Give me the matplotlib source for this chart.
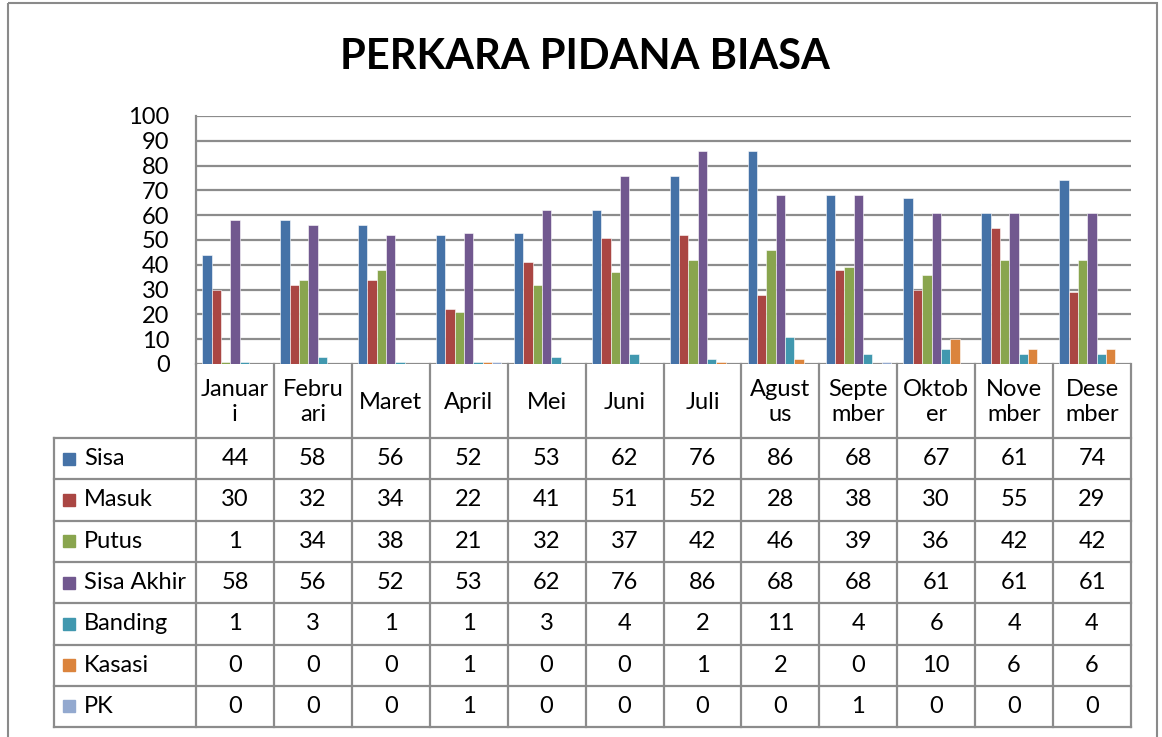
import matplotlib
matplotlib.use("Agg")
import matplotlib.pyplot as plt
from matplotlib.patches import Rectangle

plt.rcParams['font.family'] = ['Lato', 'DejaVu Sans']

MONTHS = ["Januar\ni", "Febru\nari", "Maret", "April", "Mei", "Juni", "Juli",
          "Agust\nus", "Septe\nmber", "Oktob\ner", "Nove\nmber", "Dese\nmber"]

data = {
    "Sisa":       [44, 58, 56, 52, 53, 62, 76, 86, 68, 67, 61, 74],
    "Masuk":      [30, 32, 34, 22, 41, 51, 52, 28, 38, 30, 55, 29],
    "Putus":      [1, 34, 38, 21, 32, 37, 42, 46, 39, 36, 42, 42],
    "Sisa Akhir": [58, 56, 52, 53, 62, 76, 86, 68, 68, 61, 61, 61],
    "Banding":    [1, 3, 1, 1, 3, 4, 2, 11, 4, 6, 4, 4],
    "Kasasi":     [0, 0, 0, 1, 0, 0, 1, 2, 0, 10, 6, 6],
    "PK":         [0, 0, 0, 1, 0, 0, 0, 0, 1, 0, 0, 0],
}
colors = ["#4572A7", "#AA4643", "#89A54E", "#71588F", "#4198AF", "#DB843D", "#93A9CF"]

W, H = 1162, 737
left, right, top, bottom = 196, 1131, 116, 364
row_h = 41.3
grid_c = "#8c8c8c"
fs = 17

fig = plt.figure(figsize=(W / 100, H / 100), dpi=100)

# chart area
ax = fig.add_axes([left / W, 1 - bottom / H, (right - left) / W, (bottom - top) / H])
bw = 0.12
n = len(data)
for k, (name, vals) in enumerate(data.items()):
    xs = [i + 0.5 + (k - (n - 1) / 2) * bw for i in range(len(vals))]
    ax.bar(xs, vals, width=bw, color=colors[k], edgecolor="white", linewidth=0.4, zorder=3)

ax.set_xlim(0, 12)
ax.set_ylim(0, 100)
ax.set_yticks(range(0, 101, 10))
ax.tick_params(axis="y", labelsize=17, length=0, pad=19)
ax.set_xticks([])
ax.grid(axis="y", color=grid_c, linewidth=1.6, zorder=0)
for s in ["top", "right", "bottom"]:
    ax.spines[s].set_visible(False)
ax.spines["left"].set_color(grid_c)
ax.spines["left"].set_linewidth(1.6)

# overlay for title, table and frame
ov = fig.add_axes([0, 0, 1, 1])
ov.set_xlim(0, W)
ov.set_ylim(H, 0)
ov.axis("off")
ov.patch.set_alpha(0)

ov.add_patch(Rectangle((8, 3), 1149, 745, fill=False, edgecolor="#8a8a8a", linewidth=1.5))
ov.text(585, 57, "PERKARA PIDANA BIASA", ha="center", va="center",
        fontsize=30, fontweight="bold")

col_w = (right - left) / 12
hdr_bottom = 438
tbl_left = 54
tbl_bottom = hdr_bottom + row_h * n

# header row
for i in range(13):
    x = left + i * col_w
    ov.plot([x, x], [bottom, tbl_bottom], color=grid_c, lw=1.6)
for i, m in enumerate(MONTHS):
    ov.text(left + (i + 0.5) * col_w, (bottom + hdr_bottom) / 2 + 1, m,
            ha="center", va="center", fontsize=fs, linespacing=1.2)

# data rows
ov.plot([tbl_left, tbl_left], [hdr_bottom, tbl_bottom], color=grid_c, lw=1.6)
for r in range(n + 1):
    y = hdr_bottom + r * row_h
    ov.plot([tbl_left, right], [y, y], color=grid_c, lw=1.6)
for r, (name, vals) in enumerate(data.items()):
    yc = hdr_bottom + (r + 0.5) * row_h
    ov.add_patch(Rectangle((63, yc - 6), 12, 12, color=colors[r]))
    ov.text(84, yc, name, ha="left", va="center", fontsize=fs)
    for i, v in enumerate(vals):
        ov.text(left + (i + 0.5) * col_w, yc, str(v), ha="center", va="center", fontsize=fs)

fig.savefig("out.png", dpi=100)
